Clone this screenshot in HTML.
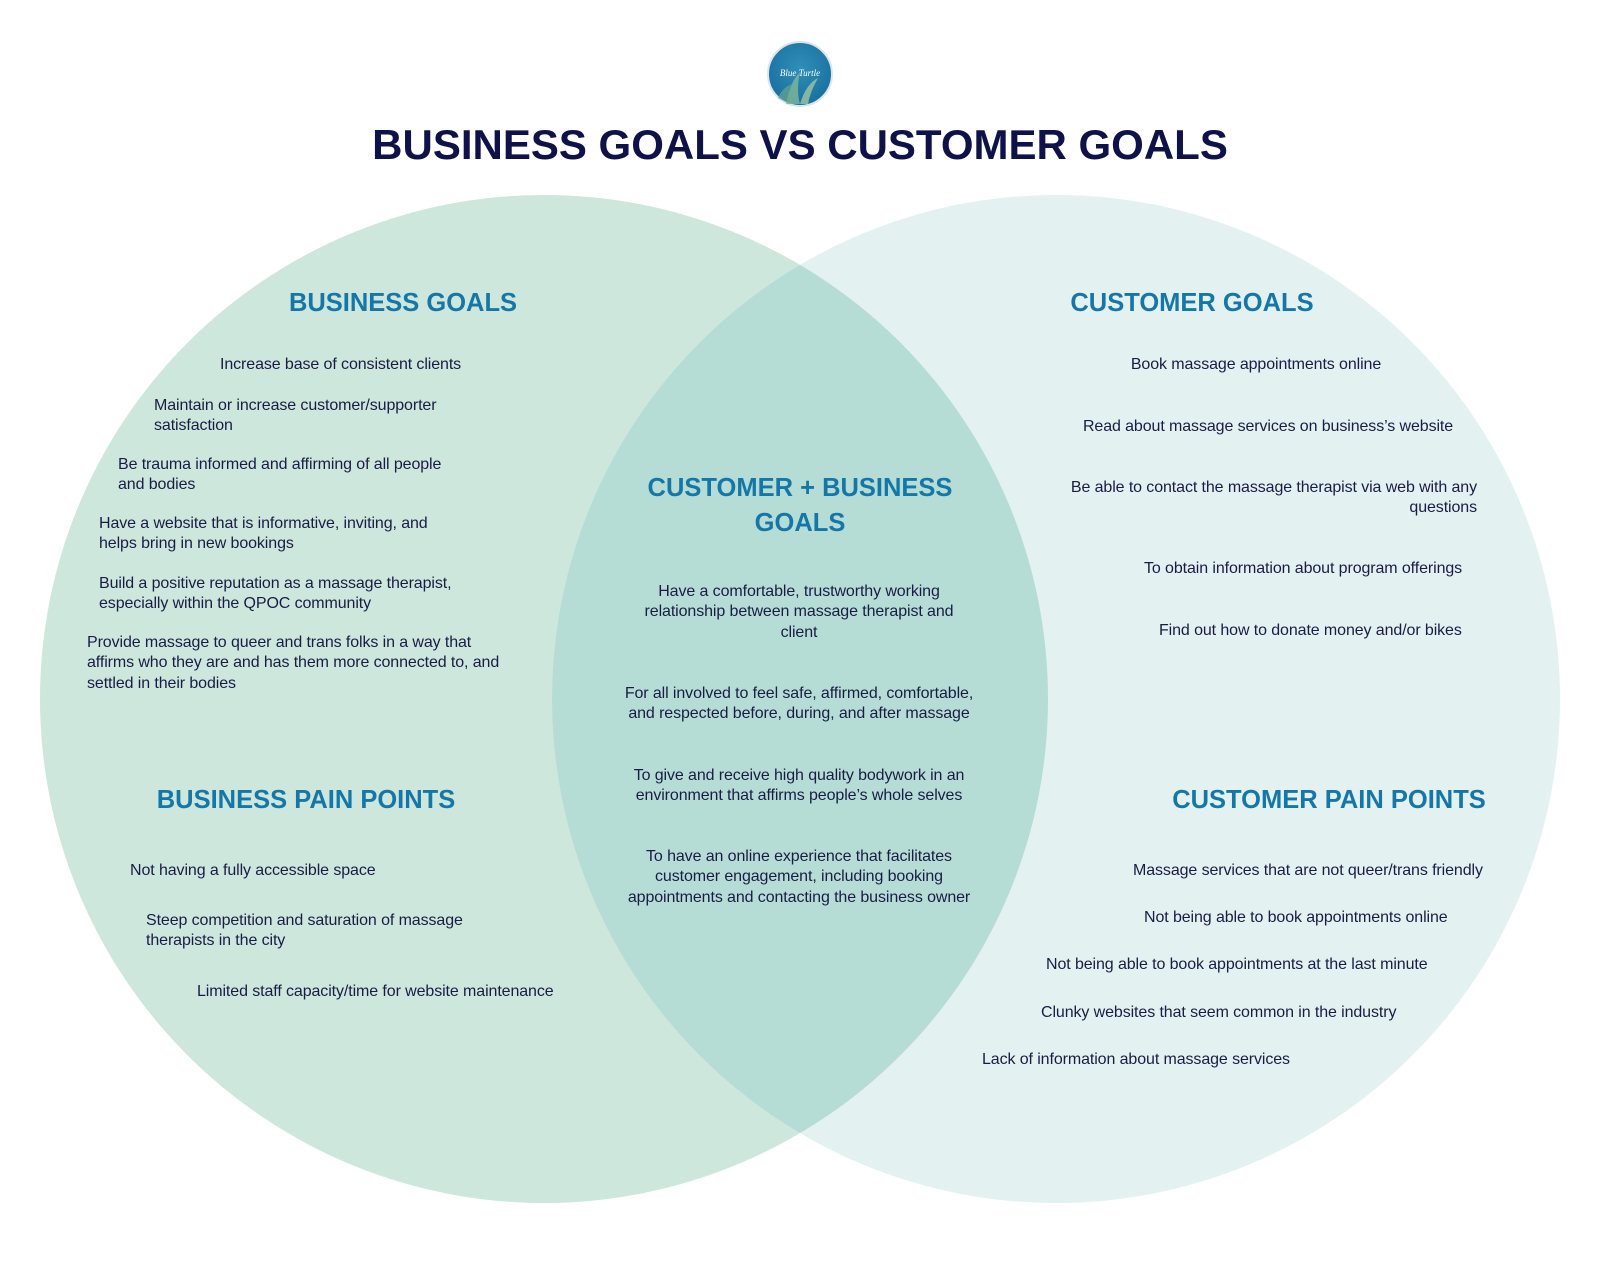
<!DOCTYPE html>
<html><head><meta charset="utf-8"><style>
body{margin:0;width:1600px;height:1268px;background:#fff;position:relative;overflow:hidden;font-family:"Liberation Sans",sans-serif;}
.t{position:absolute;font-size:16px;line-height:20.4px;color:#1a1c45;white-space:nowrap;letter-spacing:-0.1px;}
.h{position:absolute;font-size:25.5px;font-weight:bold;color:#1577a8;white-space:nowrap;line-height:30px;}
.c{transform:translateX(-50%);text-align:center;}
</style></head><body>
<svg width="1600" height="1268" style="position:absolute;left:0;top:0">
<defs><clipPath id="cl"><circle cx="544" cy="699" r="504"/></clipPath>
<radialGradient id="lg" cx="50%" cy="40%" r="60%"><stop offset="0" stop-color="#2f8fb8"/><stop offset="1" stop-color="#1a6f9e"/></radialGradient></defs>
<circle cx="544" cy="699" r="504" fill="#cde7dc"/>
<circle cx="1056" cy="699" r="504" fill="#e3f1f1"/>
<circle cx="1056" cy="699" r="504" fill="#b5ddd5" clip-path="url(#cl)"/>
<circle cx="800" cy="74" r="32" fill="url(#lg)" stroke="#d8e6ee" stroke-width="2"/>
<path d="M786 104 Q790 82 800 72 Q796 90 800 104Z" fill="#7fb99a" opacity=".8"/>
<path d="M800 104 Q806 84 818 78 Q810 92 808 104Z" fill="#9cc7a0" opacity=".8"/>
<path d="M778 98 Q782 88 792 84 Q786 94 790 104Z" fill="#6aa58f" opacity=".7"/>
<text x="800" y="76" font-family="Liberation Serif,serif" font-style="italic" font-size="9" fill="#fff" text-anchor="middle">Blue Turtle</text>
</svg>
<div class="h c" style="left:800px;top:120px;font-size:42px;line-height:50px;color:#0e1248">BUSINESS GOALS VS CUSTOMER GOALS</div>

<div class="h c" style="left:403px;top:288px">BUSINESS GOALS</div>
<div class="t" style="left:220px;top:355px">Increase base of consistent clients</div>
<div class="t" style="left:154px;top:396px">Maintain or increase customer/supporter<br>satisfaction</div>
<div class="t" style="left:118px;top:455px">Be trauma informed and affirming of all people<br>and bodies</div>
<div class="t" style="left:99px;top:514px">Have a website that is informative, inviting, and<br>helps bring in new bookings</div>
<div class="t" style="left:99px;top:574px">Build a positive reputation as a massage therapist,<br>especially within the QPOC community</div>
<div class="t" style="left:87px;top:633px">Provide massage to queer and trans folks in a way that<br>affirms who they are and has them more connected to, and<br>settled in their bodies</div>

<div class="h c" style="left:306px;top:785px">BUSINESS PAIN POINTS</div>
<div class="t" style="left:130px;top:861px">Not having a fully accessible space</div>
<div class="t" style="left:146px;top:911px">Steep competition and saturation of massage<br>therapists in the city</div>
<div class="t" style="left:197px;top:982px">Limited staff capacity/time for website maintenance</div>

<div class="h c" style="left:800px;top:471px;line-height:35px">CUSTOMER + BUSINESS<br>GOALS</div>
<div class="t c" style="left:799px;top:582px">Have a comfortable, trustworthy working<br>relationship between massage therapist and<br>client</div>
<div class="t c" style="left:799px;top:684px">For all involved to feel safe, affirmed, comfortable,<br>and respected before, during, and after massage</div>
<div class="t c" style="left:799px;top:766px">To give and receive high quality bodywork in an<br>environment that affirms people’s whole selves</div>
<div class="t c" style="left:799px;top:847px">To have an online experience that facilitates<br>customer engagement, including booking<br>appointments and contacting the business owner</div>

<div class="h c" style="left:1192px;top:288px">CUSTOMER GOALS</div>
<div class="t c" style="left:1256px;top:355px">Book massage appointments online</div>
<div class="t c" style="left:1268px;top:417px">Read about massage services on business’s website</div>
<div class="t" style="left:1050px;top:478px;text-align:right;width:427px">Be able to contact the massage therapist via web with any<br>questions</div>
<div class="t" style="left:1144px;top:559px">To obtain information about program offerings</div>
<div class="t" style="left:1159px;top:621px">Find out how to donate money and/or bikes</div>

<div class="h c" style="left:1329px;top:785px">CUSTOMER PAIN POINTS</div>
<div class="t" style="left:1133px;top:861px">Massage services that are not queer/trans friendly</div>
<div class="t" style="left:1144px;top:908px">Not being able to book appointments online</div>
<div class="t" style="left:1046px;top:955px">Not being able to book appointments at the last minute</div>
<div class="t" style="left:1041px;top:1003px">Clunky websites that seem common in the industry</div>
<div class="t" style="left:982px;top:1050px">Lack of information about massage services</div>
</body></html>
